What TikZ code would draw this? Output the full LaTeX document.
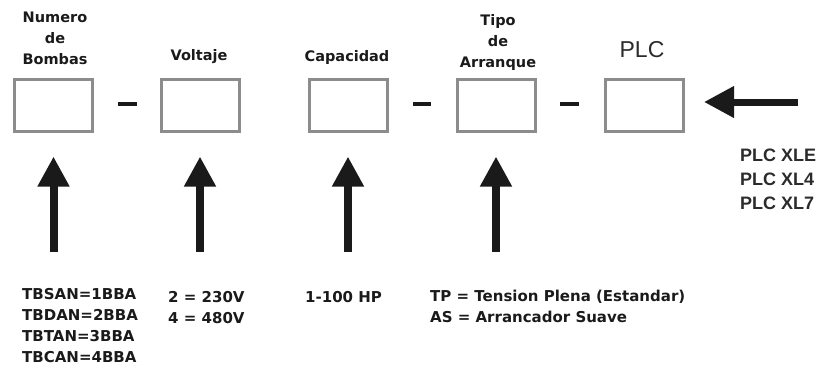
\documentclass[tikz,border=0pt]{standalone}
\usepackage{fontspec}
\setmainfont{DejaVu Sans}
\newfontfamily\arialfont{Liberation Sans}
\usetikzlibrary{arrows.meta, positioning}
\definecolor{cbox}{HTML}{8C8C8C}
\definecolor{cink}{HTML}{1A1A1A}
\definecolor{cplc}{HTML}{2B2B2B}
\tikzset{
  every picture/.style={x=1pt, y=-1pt},
  slot/.style={draw=cbox, fill=white, line width=3pt, minimum width=78pt, minimum height=52pt, inner sep=0pt},
  head/.style={font=\bfseries\fontsize{14.5}{21}\selectfont, text=cink, align=center, inner sep=0pt},
  code/.style={font=\bfseries\fontsize{15}{21}\selectfont, text=cink, align=left, anchor=west, inner sep=0pt},
  plcnote/.style={font=\arialfont\bfseries\fontsize{18}{24}\selectfont, text=cplc, align=left, anchor=west, inner sep=0pt},
  bigarrow/.style={-{Triangle[length=30pt, width=30pt]}, draw=cink, fill=cink, line width=8pt},
  sep/.style={draw=cink, line width=4pt},
}
\begin{document}
\begin{tikzpicture}
  \useasboundingbox (0,0) rectangle (838,368);
  % boxes of the code
  \foreach \n/\x in {1/53.5, 2/200, 3/348, 4/496, 5/644}
    \node[slot] (b\n) at (\x,105.5) {};
  \draw[sep] (118,104) -- (137,104);
  \draw[sep] (413,104) -- (431,104);
  \draw[sep] (560,104) -- (579,104);
  % titles
  \node[head] (h1) at (55,38.5) {Numero\\de\\Bombas};
  \node[head] (h2) at (199,57) {Voltaje};
  \node[head] (h3) at (347,57) {Capacidad};
  \node[head] (h4) at (498,42) {Tipo\\de\\Arranque};
  \node[font=\arialfont\fontsize{23}{23}\selectfont, text=cplc, inner sep=0pt] (h5) at (642,50) {PLC};
  % options
  \node[code] (o1) at (22,326) {TBSAN=1BBA\\TBDAN=2BBA\\TBTAN=3BBA\\TBCAN=4BBA};
  \node[code] (o2) at (168,308) {2 = 230V\\4 = 480V};
  \node[code] (o3) at (305,297) {1-100 HP};
  \node[code] (o4) at (430,306.5) {TP = Tension Plena (Estandar)\\AS = Arrancador Suave};
  \node[plcnote] (o5) at (740,179) {PLC XLE\\PLC XL4\\PLC XL7};
  % arrows
  \foreach \n/\x in {1/53.5, 2/200, 3/348, 4/496} {
    \coordinate (t\n) at (\x,252);
    \draw[bigarrow, shorten >=23.5pt] (t\n) -- (b\n.south);
  }
  \coordinate (t5) at (798,102);
  \draw[bigarrow, line width=7pt, shorten >=19.5pt] (t5) -- (t5 -| b5.east);
\end{tikzpicture}
\end{document}
